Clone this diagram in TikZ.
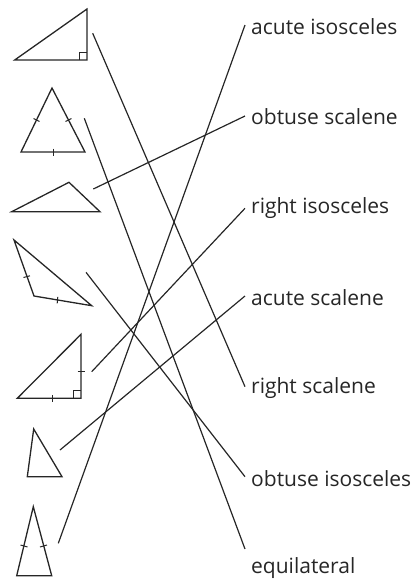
\documentclass[tikz,border=0pt]{standalone}
\usepackage{fontspec}
\setmainfont{Open Sans}
\begin{document}
\begin{tikzpicture}[x=1pt,y=-1pt,
  tri/.style={draw=black!85, line width=1.3pt, line join=miter},
  conn/.style={draw=black!85, line width=1.2pt},
  tick/.style={draw=black!85, line width=1pt},
  lbl/.style={anchor=west, inner sep=0pt, font=\fontsize{21}{25}\selectfont, text=black!85}]
\useasboundingbox (0,0) rectangle (414,582);
% triangles
\draw[tri] (14.7,60) -- (87,9) -- (87,60) -- cycle;
\draw[tri, line width=1pt] (79.5,60) -- (79.5,52.5) -- (87,52.5);
\draw[tri] (52,88) -- (21,152) -- (85,152) -- cycle;
\draw[tick] (33.5,118.5) -- (39.5,121.5);
\draw[tick] (65.5,121.5) -- (71.5,118.5);
\draw[tick] (53,148.5) -- (53,155.5);
\draw[tri] (11.7,211.7) -- (69,182.3) -- (100,211.7) -- cycle;
\draw[tri] (14,240) -- (34,296) -- (91.7,305.7) -- cycle;
\draw[tick] (23.5,277.5) -- (30,275.8);
\draw[tick] (57.8,296.8) -- (57.2,303.3);
\draw[tri] (17.3,398.3) -- (81,334.3) -- (81,398.3) -- cycle;
\draw[tri, line width=1pt] (73.5,398.3) -- (73.5,390.8) -- (81,390.8);
\draw[tick] (77.5,371) -- (84.5,371);
\draw[tick] (52.3,394.8) -- (52.3,401.8);
\draw[tri] (33.7,429) -- (27.3,476.7) -- (62,476.7) -- cycle;
\draw[tri] (33.3,506.7) -- (16.7,575.7) -- (51.7,575.7) -- cycle;
\draw[tick] (20.5,545) -- (27.5,547);
\draw[tick] (40,547) -- (47,545);
% left ends
\coordinate (l1) at (92.7,33.3);
\coordinate (l2) at (84.3,118.3);
\coordinate (l3) at (93.3,189);
\coordinate (l4) at (86,272.3);
\coordinate (l5) at (91.7,371.7);
\coordinate (l6) at (60,450);
\coordinate (l7) at (58.3,543.3);
% right ends
\coordinate (r1) at (245,25);
\coordinate (r2) at (245,116);
\coordinate (r3) at (245,208.3);
\coordinate (r4) at (245,296);
\coordinate (r5) at (245,386.7);
\coordinate (r6) at (245,476.7);
\coordinate (r7) at (245,549);
% labels
\node[lbl] (t1) at (251,27) {acute isosceles};
\node[lbl] (t2) at (251,116.5) {obtuse scalene};
\node[lbl] (t3) at (251,208) {right isosceles};
\node[lbl] (t4) at (251,297.5) {acute scalene};
\node[lbl] (t5) at (251,388.5) {right scalene};
\node[lbl] (t6) at (251,479) {obtuse isosceles};
\node[lbl] (t7) at (251,568) {equilateral};
% connectors
\draw[conn] (l1) -- (r5);
\draw[conn] (l2) -- (r7);
\draw[conn] (l3) -- (r2);
\draw[conn] (l4) -- (r6);
\draw[conn] (l5) -- (r3);
\draw[conn] (l6) -- (r4);
\draw[conn] (l7) -- (r1);
\end{tikzpicture}
\end{document}
